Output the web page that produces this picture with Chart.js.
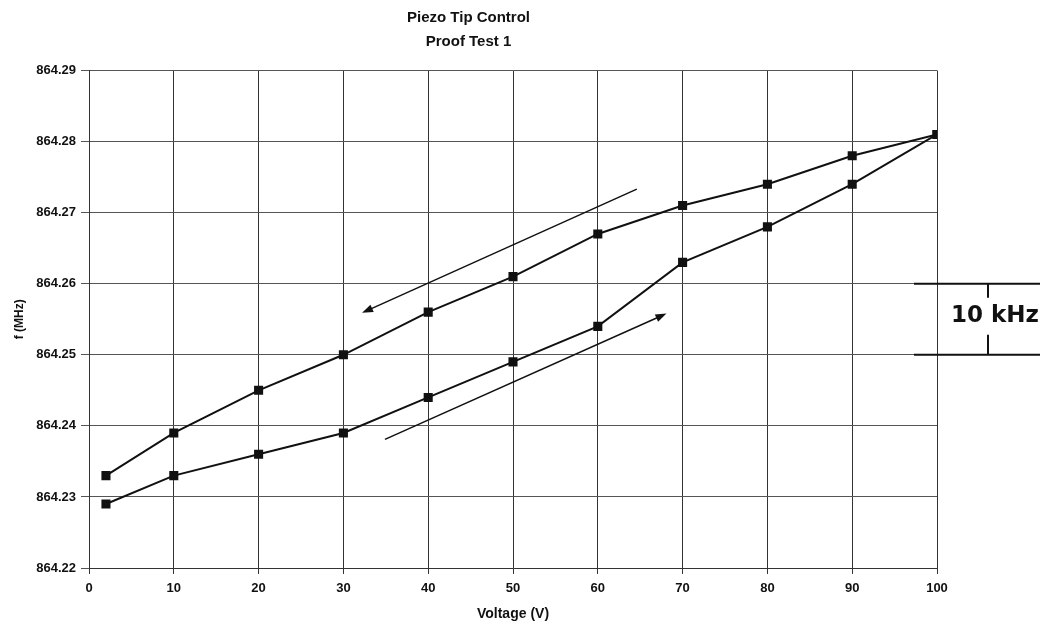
<!DOCTYPE html>
<html lang="en">
<head>
    <meta charset="UTF-8">
    <title>Piezo Tip Control - Proof Test 1</title>
    <script src="https://cdn.jsdelivr.net/npm/chart.js"></script>
    <style>
        body { margin: 0; background: #fff; }
        canvas { display: block; }
    </style>
</head>
<body>
    <canvas id="piezoChart" width="1040" height="623"></canvas>

    <script>
        // Data
        const voltage = [2, 10, 20, 30, 40, 50, 60, 70, 80, 90, 100];
        const freqUp = [864.229, 864.233, 864.236, 864.239, 864.244, 864.249, 864.254, 864.263, 864.268, 864.274, 864.281];
        const freqDown = [864.233, 864.239, 864.245, 864.250, 864.256, 864.261, 864.267, 864.271, 864.274, 864.278, 864.281];
        const yTicks = [864.22, 864.23, 864.24, 864.25, 864.26, 864.27, 864.28, 864.29];

        // Sweep direction arrows, in data units [x, y]
        const arrowStart = [[64.6, 864.2733], [34.9, 864.2381]];
        const arrowEnd = [[32.2, 864.2559], [68.1, 864.2558]];

        // 10 kHz bracket spans these two levels
        const bracketLevels = [864.26, 864.25];
        const bracketLabel = '10 kHz';

        const toPoints = (xs, ys) => xs.map((x, i) => ({ x: x, y: ys[i] }));

        const annotations = {
            id: 'annotations',
            afterDraw(chart) {
                const ctx = chart.ctx;
                const xs = chart.scales.x;
                const ys = chart.scales.y;
                ctx.save();
                ctx.strokeStyle = '#111';
                ctx.fillStyle = '#111';

                // arrows
                ctx.lineWidth = 1.5;
                arrowStart.forEach((s, i) => {
                    const x1 = xs.getPixelForValue(s[0]);
                    const y1 = ys.getPixelForValue(s[1]);
                    const x2 = xs.getPixelForValue(arrowEnd[i][0]);
                    const y2 = ys.getPixelForValue(arrowEnd[i][1]);
                    const a = Math.atan2(y2 - y1, x2 - x1);
                    ctx.beginPath();
                    ctx.moveTo(x1, y1);
                    ctx.lineTo(x2 - 6 * Math.cos(a), y2 - 6 * Math.sin(a));
                    ctx.stroke();
                    ctx.beginPath();
                    ctx.moveTo(x2, y2);
                    ctx.lineTo(x2 - 11 * Math.cos(a) + 4 * Math.sin(a), y2 - 11 * Math.sin(a) - 4 * Math.cos(a));
                    ctx.lineTo(x2 - 11 * Math.cos(a) - 4 * Math.sin(a), y2 - 11 * Math.sin(a) + 4 * Math.cos(a));
                    ctx.closePath();
                    ctx.fill();
                });

                // 10 kHz bracket on the right
                const yTop = ys.getPixelForValue(bracketLevels[0]);
                const yBot = ys.getPixelForValue(bracketLevels[1]);
                const xMid = 988;
                ctx.lineWidth = 2;
                ctx.beginPath();
                ctx.moveTo(914, yTop);
                ctx.lineTo(chart.width, yTop);
                ctx.moveTo(914, yBot);
                ctx.lineTo(chart.width, yBot);
                ctx.moveTo(xMid, yTop);
                ctx.lineTo(xMid, yTop + 14);
                ctx.moveTo(xMid, yBot - 20);
                ctx.lineTo(xMid, yBot);
                ctx.stroke();

                ctx.font = 'bold 23px "DejaVu Sans"';
                ctx.textAlign = 'left';
                ctx.textBaseline = 'middle';
                ctx.fillText(bracketLabel, 951, (yTop + yBot) / 2 - 3);
                ctx.restore();
            }
        };

        const ctx = document.getElementById('piezoChart').getContext('2d');
        const piezoChart = new Chart(ctx, {
            type: 'line',
            data: {
                datasets: [
                    {
                        label: 'Increasing voltage',
                        data: toPoints(voltage, freqUp),
                        borderColor: '#111',
                        backgroundColor: '#111',
                        borderWidth: 2,
                        pointStyle: 'rect',
                        pointRadius: 5,
                        tension: 0
                    },
                    {
                        label: 'Decreasing voltage',
                        data: toPoints(voltage, freqDown),
                        borderColor: '#111',
                        backgroundColor: '#111',
                        borderWidth: 2,
                        pointStyle: 'rect',
                        pointRadius: 5,
                        tension: 0
                    }
                ]
            },
            options: {
                responsive: false,
                animation: false,
                devicePixelRatio: 1,
                layout: { padding: { left: 0, right: 103, top: 0, bottom: 0 } },
                plugins: {
                    legend: { display: false },
                    tooltip: { enabled: false },
                    title: {
                        display: true,
                        text: ['Piezo Tip Control', 'Proof Test 1'],
                        color: '#111',
                        font: { family: 'Liberation Sans', size: 15, weight: 'bold', lineHeight: 1.65 },
                        padding: { top: 5, bottom: 16 }
                    }
                },
                scales: {
                    x: {
                        type: 'linear',
                        min: 0,
                        max: 100,
                        ticks: {
                            stepSize: 10,
                            color: '#111',
                            padding: 7,
                            font: { family: 'Liberation Sans', size: 13, weight: 'bold' }
                        },
                        grid: { color: '#333', lineWidth: 1, tickLength: 6 },
                        border: { color: '#333' },
                        title: {
                            display: true,
                            text: 'Voltage (V)',
                            color: '#111',
                            padding: { top: 0, bottom: 0 },
                            font: { family: 'Liberation Sans', size: 14, weight: 'bold' }
                        },
                        afterFit(scale) { scale.height = 55; }
                    },
                    y: {
                        type: 'linear',
                        min: yTicks[0],
                        max: yTicks[yTicks.length - 1],
                        afterBuildTicks(scale) {
                            scale.ticks = yTicks.map(v => ({ value: v }));
                        },
                        ticks: {
                            color: '#111',
                            padding: 5,
                            font: { family: 'Liberation Sans', size: 13, weight: 'bold' },
                            callback: v => v.toFixed(2)
                        },
                        grid: { color: '#555', lineWidth: 1, tickLength: 8 },
                        border: { color: '#333' },
                        title: {
                            display: true,
                            text: 'f (MHz)',
                            color: '#111',
                            padding: { top: 12, bottom: 0 },
                            font: { family: 'Liberation Sans', size: 12, weight: 'bold' }
                        },
                        afterFit(scale) { scale.width = 89; }
                    }
                }
            },
            plugins: [annotations]
        });
    </script>
</body>
</html>
